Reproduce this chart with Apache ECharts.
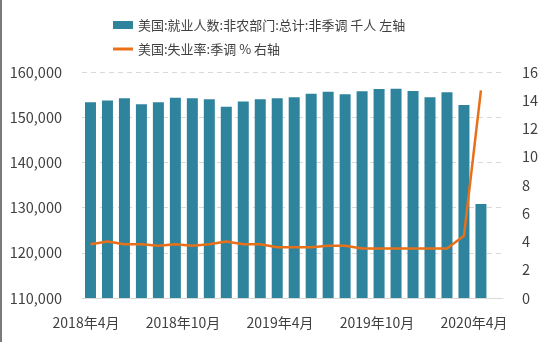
<!DOCTYPE html>
<html>
<head>
<meta charset="utf-8">
<script src="https://cdn.jsdelivr.net/npm/echarts@6/dist/echarts.min.js"></script>
<style>
  html, body { margin: 0; padding: 0; background: #fff; }
  #chart { width: 550px; height: 342px; }
</style>
</head>
<body>
<div id="chart"></div>
<script>
// Monthly observations, 2018-05 .. 2020-04
const months = [
  '2018年5月','2018年6月','2018年7月','2018年8月','2018年9月','2018年10月',
  '2018年11月','2018年12月','2019年1月','2019年2月','2019年3月','2019年4月',
  '2019年5月','2019年6月','2019年7月','2019年8月','2019年9月','2019年10月',
  '2019年11月','2019年12月','2020年1月','2020年2月','2020年3月','2020年4月'
];
// Nonfarm payrolls, not seasonally adjusted (thousands)
const payrolls = [
  153300, 153700, 154200, 152850, 153300, 154300,
  154200, 153950, 152300, 153500, 153950, 154200,
  154400, 155200, 155650, 155050, 155750, 156250,
  156300, 155800, 154400, 155500, 152700, 130800
];
// Unemployment rate, seasonally adjusted (%)
const unemployment = [
  3.8, 4.0, 3.8, 3.8, 3.7, 3.8,
  3.7, 3.8, 4.0, 3.8, 3.8, 3.6,
  3.6, 3.6, 3.7, 3.7, 3.5, 3.5,
  3.5, 3.5, 3.5, 3.5, 4.4, 14.7
];
// Date labels along the bottom
const tickLabels = ['2018年4月', '2018年10月', '2019年4月', '2019年10月', '2020年4月'];

const seriesNames = [
  '美国:就业人数:非农部门:总计:非季调 千人 左轴',
  '美国:失业率:季调 % 右轴'
];

const FONT = "'Noto Sans CJK SC', 'Noto Sans', sans-serif";
const TEXT = '#404040';
const BAR = '#2f849d';
const LINE = '#e8701a';

const chart = echarts.init(document.getElementById('chart'), null, { renderer: 'canvas' });

const legendText = { fontFamily: FONT, fontSize: 13, color: TEXT, lineHeight: 16 };

chart.setOption({
  animation: false,
  backgroundColor: '#ffffff',
  textStyle: { fontFamily: FONT },
  graphic: [{
    type: 'rect', left: 0, top: 0,
    shape: { width: 2, height: 342 },
    style: { fill: '#7a7a7a' }
  }],
  legend: [
    {
      left: 108, top: 12,
      itemWidth: 20, itemHeight: 8,
      textStyle: legendText,
      data: [{ name: seriesNames[0], icon: 'rect' }]
    },
    {
      left: 108, top: 36,
      itemWidth: 20, itemHeight: 3,
      textStyle: legendText,
      data: [{ name: seriesNames[1], icon: 'rect', itemStyle: { color: LINE } }]
    }
  ],
  grid: [
    { left: 82, right: 47, top: 72, bottom: 44 },
    { left: 86, right: 76, top: 72, bottom: 44 }
  ],
  xAxis: [
    {
      type: 'value', gridIndex: 0,
      min: 0.5, max: 25.3,
      axisLine: { show: true, onZero: false, lineStyle: { color: '#d9d9d9', width: 1 } },
      axisTick: { show: false },
      axisLabel: { show: false },
      splitLine: { show: false }
    },
    {
      type: 'category', gridIndex: 1,
      data: tickLabels, boundaryGap: false,
      axisLine: { show: false },
      axisTick: { show: false },
      axisLabel: { fontFamily: FONT, fontSize: 14, color: TEXT, margin: 18, interval: 0 }
    }
  ],
  yAxis: [
    {
      type: 'value', gridIndex: 0,
      min: 110000, max: 160000, interval: 10000,
      axisLine: { show: false }, axisTick: { show: false },
      axisLabel: {
        fontFamily: FONT, fontSize: 14.5, color: TEXT, margin: 20,
        formatter: v => v.toLocaleString('en-US')
      },
      splitLine: { show: true, lineStyle: { color: '#d9d9d9', type: [5, 4], width: 1 } }
    },
    {
      type: 'value', gridIndex: 0, position: 'right',
      min: 0, max: 16, interval: 2,
      axisLine: { show: false }, axisTick: { show: false },
      axisLabel: { fontFamily: FONT, fontSize: 14.5, color: TEXT, margin: 19, align: 'left' },
      splitLine: { show: false }
    },
    {
      type: 'value', gridIndex: 1, show: false
    }
  ],
  series: [
    {
      name: seriesNames[0],
      type: 'bar',
      xAxisIndex: 0, yAxisIndex: 0,
      barWidth: 11,
      itemStyle: { color: BAR },
      data: payrolls.map((v, i) => [i + 1, v])
    },
    {
      name: seriesNames[1],
      type: 'line',
      xAxisIndex: 0, yAxisIndex: 1,
      symbol: 'none',
      lineStyle: { color: LINE, width: 2.5 },
      itemStyle: { color: LINE },
      data: unemployment.map((v, i) => [i + 1, v])
    }
  ]
});
</script>
</body>
</html>
